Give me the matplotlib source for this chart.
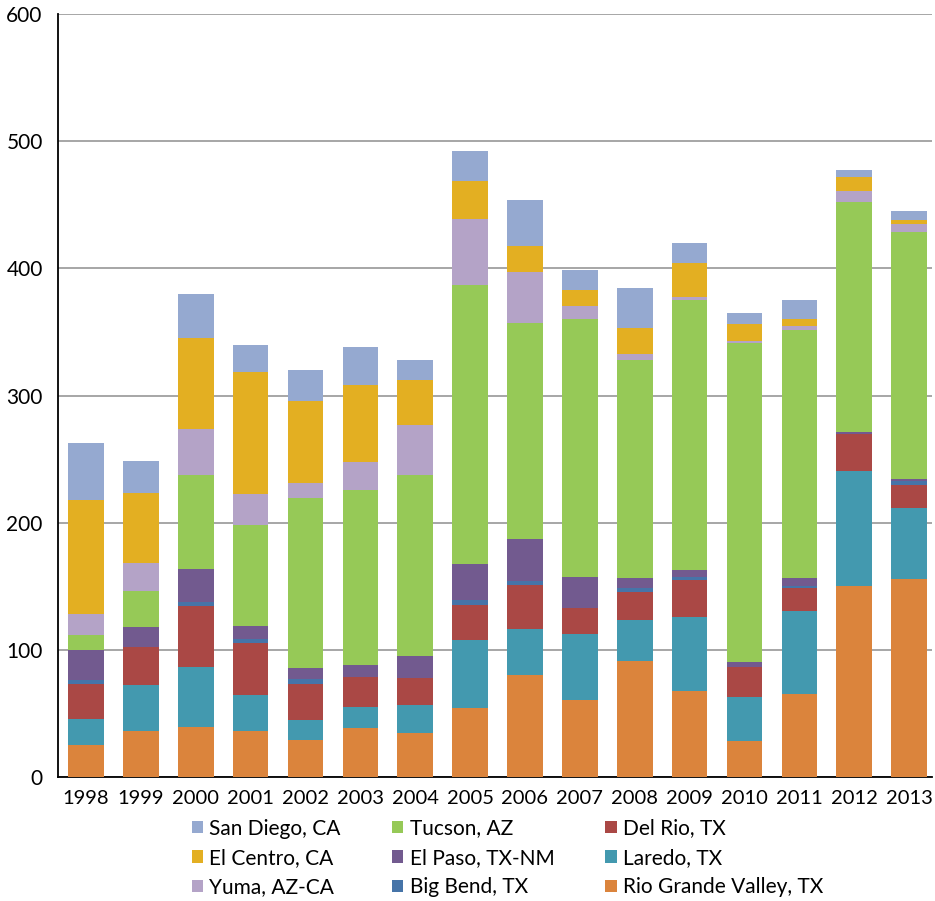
import matplotlib
matplotlib.use("Agg")
import matplotlib.pyplot as plt
import numpy as np

years = ["1998", "1999", "2000", "2001", "2002", "2003", "2004", "2005",
         "2006", "2007", "2008", "2009", "2010", "2011", "2012", "2013"]

rio_grande = [25, 36, 39.5, 36.4, 29.5, 39, 34.3, 54.7, 80.4, 61, 91.4, 67.8, 28.5, 65.7, 150.5, 155.8]
laredo     = [20.4, 36.7, 47.1, 28.3, 15.7, 16.2, 22.5, 53.4, 36.1, 51.8, 32.4, 58.1, 34.6, 64.9, 90.1, 56]
del_rio    = [27.7, 29.6, 48.2, 40.8, 28.3, 23.6, 21.4, 27.2, 34.6, 20.4, 22, 29.3, 23.5, 18.3, 29.3, 17.8]
big_bend   = [2.9, 0, 3.1, 3.1, 3.7, 0, 0, 4.2, 3.1, 0, 3.1, 2.1, 0, 1.6, 0, 3.2]
el_paso    = [23.6, 16, 25.7, 10.5, 8.9, 9.4, 17.3, 28.1, 33, 24.1, 7.9, 5.5, 4.2, 6.3, 1.6, 1.5]
tucson     = [11.8, 28, 73.9, 79.1, 133.5, 137.7, 142, 219.1, 169.7, 202.7, 171.2, 212.4, 250.4, 194.8, 180.7, 194.5]
yuma       = [16.7, 21.7, 36.1, 24.6, 11.6, 22, 39.3, 51.9, 40.3, 10.5, 4.7, 2.1, 1.5, 3.2, 8.4, 6.2]
el_centro  = [90.1, 55.5, 71.7, 95.8, 64.4, 60.3, 35.5, 29.8, 20.4, 12.5, 20.5, 26.7, 13.6, 5.2, 11, 3]
san_diego  = [44.8, 25.2, 34.4, 21, 24.6, 29.8, 15.5, 23.6, 35.9, 15.5, 31.6, 15.7, 8.4, 15.2, 5.5, 6.9]

series = [
    ("Rio Grande Valley, TX", rio_grande, "#DB843C"),
    ("Laredo, TX", laredo, "#4399AF"),
    ("Del Rio, TX", del_rio, "#AA4845"),
    ("Big Bend, TX", big_bend, "#4674A8"),
    ("El Paso, TX-NM", el_paso, "#725A8F"),
    ("Tucson, AZ", tucson, "#96C957"),
    ("Yuma, AZ-CA", yuma, "#B4A3C7"),
    ("El Centro, CA", el_centro, "#E3AF22"),
    ("San Diego, CA", san_diego, "#95A9D0"),
]

plt.rcParams['font.family'] = ['Lato', 'DejaVu Sans']

fig = plt.figure(figsize=(9.35, 9.01), dpi=100)
ax = fig.add_axes([0.062, 0.1375, 0.935, 0.847])

x = np.arange(len(years))
bottom = np.zeros(len(years))
handles = {}
for name, vals, col in series:
    v = np.array(vals, dtype=float)
    h = ax.bar(x, v, 0.65, bottom=bottom, color=col, label=name, zorder=3)
    handles[name] = h
    bottom += v

ax.set_ylim(0, 600)
ax.set_xlim(-0.51, 15.42)
ax.set_yticks(range(0, 601, 100))
ax.set_xticks(x)
ax.set_xticklabels(years)
ax.tick_params(axis='both', length=0, labelsize=15, colors='black')
ax.tick_params(axis='x', labelsize=14.5, pad=9)
ax.tick_params(axis='y', pad=11)
ax.yaxis.grid(True, color='#A6A6A6', linewidth=1.4, zorder=0)
ax.set_axisbelow(True)
for s in ['top', 'right']:
    ax.spines[s].set_visible(False)
ax.spines['left'].set_color('black')
ax.spines['left'].set_linewidth(1.3)
ax.spines['bottom'].set_color('black')
ax.spines['bottom'].set_linewidth(1.3)

order = ["San Diego, CA", "El Centro, CA", "Yuma, AZ-CA",
         "Tucson, AZ", "El Paso, TX-NM", "Big Bend, TX",
         "Del Rio, TX", "Laredo, TX", "Rio Grande Valley, TX"]
fig.legend([handles[n] for n in order], order, ncol=3, loc='upper left',
           bbox_to_anchor=(0.205, 0.0915), frameon=False, fontsize=15,
           handlelength=0.55, handleheight=0.55, handletextpad=0.3,
           columnspacing=2.45, labelspacing=0.45, borderaxespad=0, borderpad=0)

fig.savefig("out.png", dpi=100)
